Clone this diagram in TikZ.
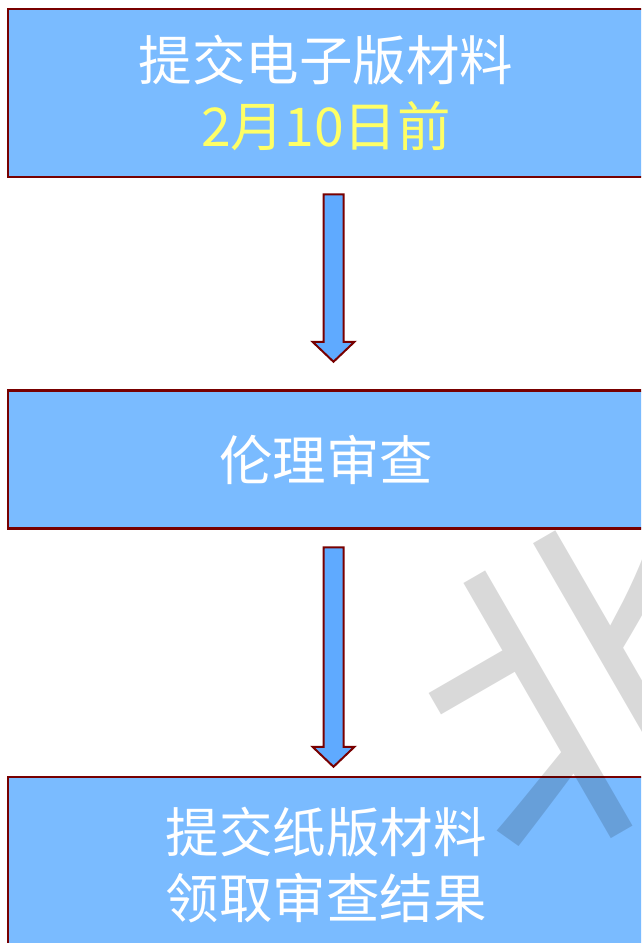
\documentclass[tikz,border=0pt]{standalone}
\usepackage{fontspec}
\newfontfamily\cjk{Noto Sans CJK SC}
\usetikzlibrary{calc}
\definecolor{boxfill}{HTML}{7ABBFF}
\definecolor{arrowfill}{HTML}{5FAAFF}
\definecolor{edge}{HTML}{780000}
\definecolor{ylw}{HTML}{FFFF66}
\tikzset{
  stepbox/.style={draw=edge, line width=2.5pt, fill=boxfill, rectangle, inner sep=0pt,
    minimum width=636pt, align=center, text=white,
    font=\cjk\fontsize{53.5}{66}\selectfont},
  blockarrow/.style={draw=edge, line width=2pt, fill=arrowfill, line join=miter}
}
\begin{document}
\begin{tikzpicture}[x=1pt,y=-1pt]
\path[use as bounding box, clip] (0,0) rectangle (641,943);
\fill[white] (0,0) rectangle (641,943);
\node[stepbox, minimum height=168pt] (b1) at (326,93) {提交电子版材料\\\textcolor{ylw}{2月10日前}};
\node[stepbox, minimum height=138pt] (b2) at (326,459.7) {伦理审查};
\node[stepbox, minimum height=176pt] (b3) at (326,865) {提交纸版材料\\领取审查结果};
% arrows
\coordinate (a1s) at ($(b1.south)+(7.5,16)$);
\coordinate (a1e) at ($(b2.north)+(7.5,-27.7)$);
\coordinate (a2s) at ($(b2.south)+(7.5,17.3)$);
\coordinate (a2e) at ($(b3.north)+(7.5,-9)$);
\draw[blockarrow] ($(a1s)+(-10,0)$) -- ($(a1s)+(10,0)$) -- ($(a1e)+(10,-20)$) -- ($(a1e)+(21,-20)$)
  -- (a1e) -- ($(a1e)+(-21,-20)$) -- ($(a1e)+(-10,-20)$) -- cycle;
\draw[blockarrow] ($(a2s)+(-10,0)$) -- ($(a2s)+(10,0)$) -- ($(a2e)+(10,-20)$) -- ($(a2e)+(21,-20)$)
  -- (a2e) -- ($(a2e)+(-21,-20)$) -- ($(a2e)+(-10,-20)$) -- cycle;
% watermark
\node[rotate=30, inner sep=0pt, text=black, text opacity=0.15,
  font=\cjk\fontsize{330}{330}\selectfont] (wm) at (588,682) {北};
\end{tikzpicture}
\end{document}
